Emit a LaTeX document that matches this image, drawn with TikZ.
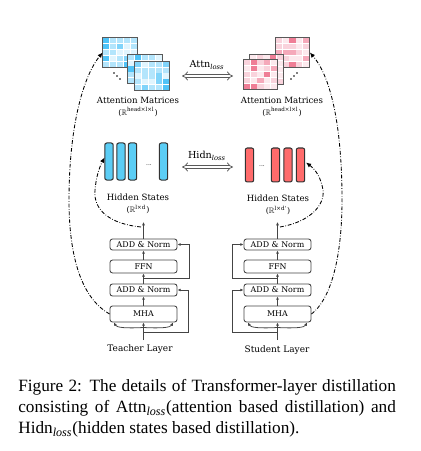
\documentclass[tikz,border=0pt]{standalone}
\usepackage{amssymb}
\usepackage{fontspec}
\setmainfont{Liberation Serif}
\newfontfamily\dfont{DejaVu Serif}
\usetikzlibrary{arrows.meta,calc}
\definecolor{tb1}{HTML}{B3E5FC}
\definecolor{tb2}{HTML}{81D4FA}
\definecolor{tb3}{HTML}{4FC3F7}
\definecolor{tb4}{HTML}{E1F5FE}
\definecolor{pk1}{HTML}{F9D3DC}
\definecolor{pk2}{HTML}{F5A9BA}
\definecolor{pk3}{HTML}{EF7E96}
\definecolor{pk4}{HTML}{FCE9ED}
\definecolor{tbar}{HTML}{5BCDF5}
\definecolor{sbar}{HTML}{FF6B6B}
\definecolor{lgray}{HTML}{444444}
\pgfmathdeclarerandomlist{blues}{{tb1}{tb1}{tb1}{tb2}{tb3}{tb4}{tb4}}
\pgfmathdeclarerandomlist{pinks}{{pk1}{pk1}{pk1}{pk2}{pk3}{pk4}{pk4}}
\newcommand\dlbl{\dfont\fontsize{5}{6}\selectfont}
\newcommand\dsup{\dfont\fontsize{4.6}{5}\selectfont}
\newcommand\dbox{\dfont\fontsize{4.6}{5.5}\selectfont}
\newcommand\RR{$\mathbb{R}$}
% attention matrix: name, cx, cy, list, seed
\newcommand\amat[5]{%
  \node[matframe] (#1) at (#2,#3) {};
  \pgfmathsetseed{#5}
  \foreach \i in {0,...,4}{\foreach \j in {0,...,4}{
    \pgfmathrandomitem{\cc}{#4}
    \fill[\cc] ({#2-17+\i*6.8+0.35},{#3-14.5+\j*5.8+0.35}) rectangle ++(6.1,5.1);
  }}
  \draw[matline] (#1.north west) rectangle (#1.south east);
}
\begin{document}
\begin{tikzpicture}[x=0.58pt,y=-0.58pt,
  matframe/.style={fill=white, minimum width=19.72pt, minimum height=16.82pt, inner sep=0pt},
  matline/.style={draw=black!65, line width=0.7pt},
  hbar/.style={draw=black!80, line width=0.6pt, rounded corners=1.2pt,
    minimum width=4.9pt, inner sep=0pt},
  lbl/.style={font=\dlbl, inner sep=0pt},
  supl/.style={font=\dsup, inner sep=0pt},
  lbox/.style={draw=lgray, line width=0.5pt, rounded corners=1.5pt,
    minimum width=38.9pt, inner sep=0pt, font=\dbox},
  arr/.style={draw=lgray, line width=0.45pt, -{Latex[length=1.9pt,width=1.7pt]}},
  dd/.style={black, line width=0.5pt, dash pattern=on 2.2pt off 1pt on 0.4pt off 1pt,
    -{Latex[length=3pt,width=2.6pt]}},
  lossarr/.style={draw=black!65, line width=0.45pt, double=white, double distance=1.3pt,
    {Implies}-{Implies}},
]
\useasboundingbox (0,0) rectangle (420,451);

% ---------- attention matrices ----------
\amat{tA1}{120}{52.5}{blues}{3}
\amat{tA2}{145}{69}{blues}{7}
\amat{tA3}{152}{76}{blues}{11}
\fill (114,73) circle (0.45pt) (117,76) circle (0.45pt) (120,79) circle (0.45pt);

\amat{sA1}{292.5}{52.5}{pinks}{5}
\amat{sA2}{266.5}{69.5}{pinks}{9}
\amat{sA3}{260.5}{74.5}{pinks}{13}
\fill (291,79) circle (0.45pt) (294,76) circle (0.45pt) (297,73) circle (0.45pt);

\node[lbl] (tAl) at (138,100) {Attention Matrices};
\node[supl] (tAs) at (138,112) {(\RR\textsuperscript{head×l×l})};
\node[lbl] (sAl) at (282,100) {Attention Matrices};
\node[supl] (sAs) at (282,112) {(\RR\textsuperscript{head×l×l})};

% Attn loss
\coordinate (aL) at (182,76);
\coordinate (aR) at (233,76);
\draw[lossarr] (aL) -- (aR);
\node[font=\dfont\fontsize{5.6}{6.5}\selectfont, inner sep=0pt] (aLoss) at (207,65) {Attn\textsubscript{\itshape loss}};

% ---------- hidden states ----------
\node[hbar, fill=tbar, minimum height=21.5pt] (tH1) at (109,161.5) {};
\node[hbar, fill=tbar, minimum height=21.5pt] (tH2) at (121,161.5) {};
\node[hbar, fill=tbar, minimum height=21.5pt] (tH3) at (132.5,161.5) {};
\node[hbar, fill=tbar, minimum height=21.5pt] (tH4) at (163.5,161.5) {};
\node[font=\dfont\fontsize{3.5}{4}\selectfont, inner sep=0pt] (tHd) at (149,165) {...};

\node[hbar, fill=sbar, minimum height=19.7pt] (sH1) at (249.5,165) {};
\node[hbar, fill=sbar, minimum height=19.7pt] (sH2) at (275.5,165) {};
\node[hbar, fill=sbar, minimum height=19.7pt] (sH3) at (288,165) {};
\node[hbar, fill=sbar, minimum height=19.7pt] (sH4) at (300.5,165) {};
\node[font=\dfont\fontsize{3.5}{4}\selectfont, inner sep=0pt] (sHd) at (262,166) {...};

\node[lbl] (tHl) at (138,197) {Hidden States};
\node[supl] (tHs) at (138,209.5) {(\RR\textsuperscript{l×d})};
\node[lbl] (sHl) at (278,198) {Hidden States};
\node[supl] (sHs) at (278,210.5) {(\RR\textsuperscript{l×d'})};

% Hidn loss
\coordinate (hL) at (182,167);
\coordinate (hR) at (233,167);
\draw[lossarr] (hL) -- (hR);
\node[font=\dfont\fontsize{5.6}{6.5}\selectfont, inner sep=0pt] (hLoss) at (207,156) {Hidn\textsubscript{\itshape loss}};

% ---------- teacher layer ----------
\node[lbox, minimum height=6.4pt] (tN2) at (143.5,244.5) {ADD \& Norm};
\node[lbox, minimum height=7.5pt] (tF) at (143.5,266.5) {FFN};
\node[lbox, minimum height=7pt] (tN1) at (143.5,290) {ADD \& Norm};
\node[lbox, minimum height=9.3pt] (tM) at (143.5,314) {MHA};
\node[lbl, font=\dfont\fontsize{5.2}{6}\selectfont] (tL) at (140,349) {Teacher Layer};

\coordinate (tIn) at (143.5,340);
\coordinate (tTop) at (143.5,222);
\coordinate (tR1) at (143.5,332);
\coordinate (tR1c) at (188,332);
\coordinate (tR2) at (143.5,278.5);
\coordinate (tR2c) at (189,278.5);
\coordinate (tQ) at (143.5,327.5);

\draw[arr] (tM) -- (tN1);
\draw[arr] (tN1) -- (tF);
\draw[arr] (tF) -- (tN2);
\draw[arr] (tN2) -- (tTop);
\draw[arr] (tIn) -- (tM);
\draw[arr] (tR1) -- (tR1c) |- (tN1.east);
\draw[arr] (tR2) -- (tR2c) |- (tN2.east);
\draw[arr] (tQ) .. controls (125,328.5) and (116.5,327.5) .. ($(tM.south west)+(4.5,0)$);
\draw[arr] (tQ) .. controls (162,328.5) and (170.5,327.5) .. ($(tM.south east)+(-4.5,0)$);

% ---------- student layer ----------
\node[lbox, minimum height=6.4pt] (sN2) at (277.5,244.5) {ADD \& Norm};
\node[lbox, minimum height=7.5pt] (sF) at (277.5,266.5) {FFN};
\node[lbox, minimum height=7pt] (sN1) at (277.5,290) {ADD \& Norm};
\node[lbox, minimum height=9.3pt] (sM) at (277.5,314) {MHA};
\node[lbl, font=\dfont\fontsize{5.2}{6}\selectfont] (sL) at (277,350) {Student Layer};

\coordinate (sIn) at (277.5,340);
\coordinate (sTop) at (277.5,222);
\coordinate (sR1) at (277.5,332);
\coordinate (sR1c) at (232,332);
\coordinate (sR2) at (277.5,278.5);
\coordinate (sR2c) at (232,278.5);
\coordinate (sQ) at (277.5,327.5);

\draw[arr] (sM) -- (sN1);
\draw[arr] (sN1) -- (sF);
\draw[arr] (sF) -- (sN2);
\draw[arr] (sN2) -- (sTop);
\draw[arr] (sIn) -- (sM);
\draw[arr] (sR1) -- (sR1c) |- (sN1.west);
\draw[arr] (sR2) -- (sR2c) |- (sN2.west);
\draw[arr] (sQ) .. controls (259,328.5) and (250.5,327.5) .. ($(sM.south west)+(4.5,0)$);
\draw[arr] (sQ) .. controls (296,328.5) and (304.5,327.5) .. ($(sM.south east)+(-4.5,0)$);

% ---------- dash-dot distillation curves ----------
\coordinate (tOut) at (141,227);
\coordinate (tHt) at (104.5,157.5);
\coordinate (sOut) at (280,227);
\coordinate (sHt) at (306,162.5);
\draw[dd] (tM.west) .. controls (85,300) and (69,265) .. (69,200)
  .. controls (69,130) and (82,78) .. (tA1.west);
\draw[dd] (tOut) .. controls (110,224) and (93,210) .. (95,190)
  .. controls (96,178) and (99,168) .. (tHt);
\draw[dd] (sOut) .. controls (310,222) and (325,205) .. (323,190)
  .. controls (321,178) and (316,170) .. (sHt);
\draw[dd] (sM.east) .. controls (330,300) and (342,260) .. (342,200)
  .. controls (342,130) and (332,78) .. (sA1.east);

% ---------- caption ----------
\node[anchor=north west, inner sep=0pt, text width=219pt, align=justify,
  font=\fontsize{10}{12.2}\selectfont] (cap) at (18,379)
  {\hyphenpenalty=10000 Figure 2: The details of Transformer-layer distillation\linebreak
   consisting of Attn\textsubscript{\itshape loss}(attention based distillation) and\linebreak
   Hidn\textsubscript{\itshape loss}(hidden states based distillation).};
\end{tikzpicture}
\end{document}
